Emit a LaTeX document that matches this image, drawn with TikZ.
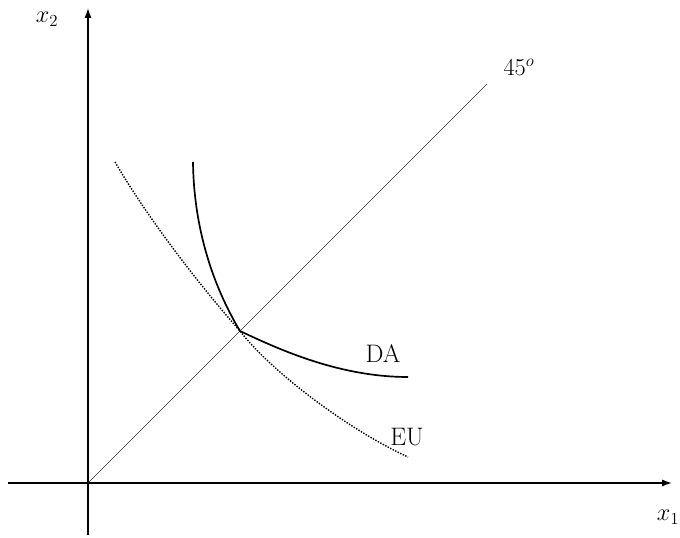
\documentclass[tikz,border=0pt]{standalone}
\usepackage{amsmath}
\usepackage{tikz}
\usetikzlibrary{arrows.meta}

\begin{document}
\begin{tikzpicture}[
  font=\fontsize{18}{22}\selectfont,
  axisline/.style={draw=black, line width=1.1pt, -{Latex[length=7pt, width=5pt]}},
  diagline/.style={draw=black!80, line width=0.5pt},
  dacurve/.style={draw=black, line width=1.2pt},
  eucurve/.style={draw=black, line width=1.0pt, dash pattern=on 1pt off 1pt},
  lbl/.style={inner sep=1pt}
]
  \useasboundingbox (-2.2,-1.375) rectangle (14.8,12.075);

  % axes
  \coordinate (O) at (0,0);
  \coordinate (xstart) at (-2.0,0);
  \coordinate (xend) at (14.6,0);
  \coordinate (ystart) at (0,-1.3);
  \coordinate (yend) at (0,11.875);
  \draw[axisline] (xstart) -- (xend);
  \draw[axisline] (ystart) -- (yend);
  \node[lbl] (xlab) at (14.5,-0.85) {$x_1$};
  \node[lbl] (ylab) at (-1.025,11.6) {$x_2$};

  % 45 degree line
  \coordinate (diagend) at (9.975,9.975);
  \draw[diagline] (O) -- (diagend);
  \node[lbl] (deg) at (10.775,10.4) {$45^o$};

  % curves through the common point
  \coordinate (P) at (3.8,3.8);
  \coordinate (dastart) at (2.625,8.025);
  \coordinate (daend) at (8.0,2.65);
  \coordinate (eustart) at (0.675,8.025);
  \coordinate (euend) at (8.0,0.65);
  \draw[dacurve] (dastart) .. controls (2.65,6.0) and (3.35,4.55) .. (P)
     .. controls (4.8,3.325) and (6.3,2.65) .. (daend);
  \draw[eucurve] (eustart) .. controls (1.675,6.325) and (3.05,4.65) .. (P)
     .. controls (4.55,2.825) and (6.425,1.375) .. (euend);
  \node[lbl] (da) at (7.375,3.225) {DA};
  \node[lbl] (eu) at (7.975,1.15) {EU};
\end{tikzpicture}
\end{document}
